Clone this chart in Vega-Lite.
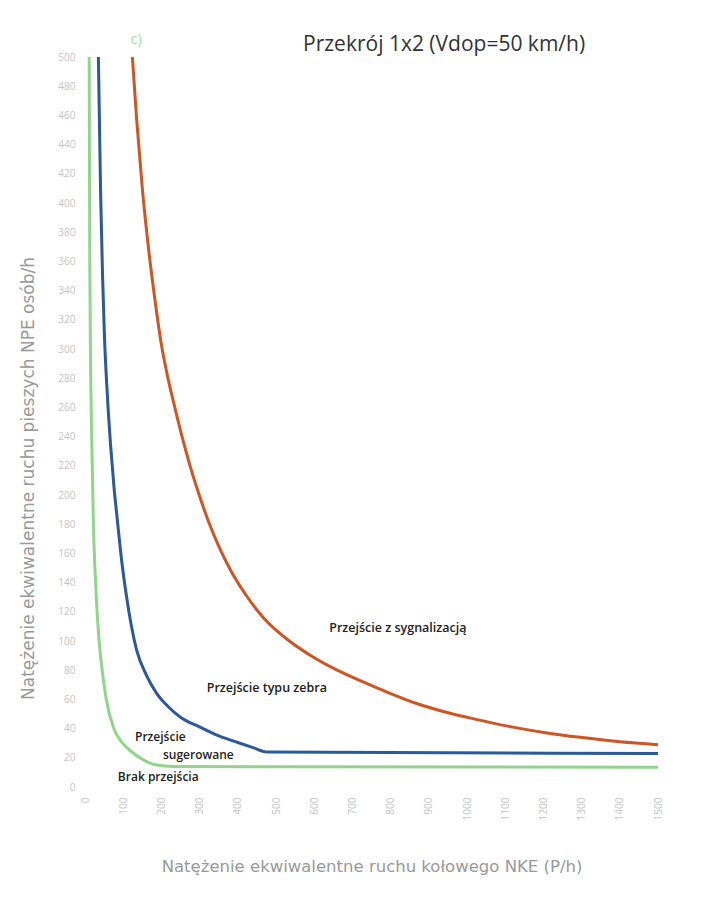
{
  "$schema": "https://vega.github.io/schema/vega-lite/v6.json",
  "width": 573,
  "height": 730,
  "autosize": {"type": "none"},
  "padding": {"left": 85, "top": 57, "right": 43, "bottom": 116},
  "background": "white",
  "config": {
    "view": {"stroke": null},
    "font": "Open Sans"
  },
  "datasets": {
    "curves": [
      {"series": "Brak przejścia", "nke": 11, "npe": 500},
      {"series": "Brak przejścia", "nke": 12.5, "npe": 360},
      {"series": "Brak przejścia", "nke": 15, "npe": 280},
      {"series": "Brak przejścia", "nke": 17.5, "npe": 240},
      {"series": "Brak przejścia", "nke": 22, "npe": 180},
      {"series": "Brak przejścia", "nke": 26, "npe": 150},
      {"series": "Brak przejścia", "nke": 30, "npe": 128},
      {"series": "Brak przejścia", "nke": 36, "npe": 103},
      {"series": "Brak przejścia", "nke": 44, "npe": 82},
      {"series": "Brak przejścia", "nke": 55, "npe": 61},
      {"series": "Brak przejścia", "nke": 74, "npe": 41},
      {"series": "Brak przejścia", "nke": 95, "npe": 31},
      {"series": "Brak przejścia", "nke": 118, "npe": 25},
      {"series": "Brak przejścia", "nke": 150, "npe": 19},
      {"series": "Brak przejścia", "nke": 188, "npe": 15},
      {"series": "Brak przejścia", "nke": 230, "npe": 14},
      {"series": "Brak przejścia", "nke": 1500, "npe": 13.5},
      {"series": "Przejście typu zebra", "nke": 35, "npe": 500},
      {"series": "Przejście typu zebra", "nke": 41, "npe": 405},
      {"series": "Przejście typu zebra", "nke": 46, "npe": 350},
      {"series": "Przejście typu zebra", "nke": 51, "npe": 308},
      {"series": "Przejście typu zebra", "nke": 56, "npe": 280},
      {"series": "Przejście typu zebra", "nke": 61, "npe": 257},
      {"series": "Przejście typu zebra", "nke": 67, "npe": 234},
      {"series": "Przejście typu zebra", "nke": 76, "npe": 205},
      {"series": "Przejście typu zebra", "nke": 85, "npe": 182},
      {"series": "Przejście typu zebra", "nke": 96, "npe": 155},
      {"series": "Przejście typu zebra", "nke": 109, "npe": 130},
      {"series": "Przejście typu zebra", "nke": 121, "npe": 111},
      {"series": "Przejście typu zebra", "nke": 135, "npe": 94},
      {"series": "Przejście typu zebra", "nke": 160, "npe": 77},
      {"series": "Przejście typu zebra", "nke": 188, "npe": 64},
      {"series": "Przejście typu zebra", "nke": 218, "npe": 55},
      {"series": "Przejście typu zebra", "nke": 249, "npe": 48},
      {"series": "Przejście typu zebra", "nke": 301, "npe": 41},
      {"series": "Przejście typu zebra", "nke": 350, "npe": 35},
      {"series": "Przejście typu zebra", "nke": 400, "npe": 30.5},
      {"series": "Przejście typu zebra", "nke": 440, "npe": 27},
      {"series": "Przejście typu zebra", "nke": 475, "npe": 24},
      {"series": "Przejście typu zebra", "nke": 1500, "npe": 23},
      {"series": "Przejście z sygnalizacją", "nke": 124, "npe": 500},
      {"series": "Przejście z sygnalizacją", "nke": 135, "npe": 458},
      {"series": "Przejście z sygnalizacją", "nke": 150, "npe": 410},
      {"series": "Przejście z sygnalizacją", "nke": 168, "npe": 365},
      {"series": "Przejście z sygnalizacją", "nke": 185, "npe": 330},
      {"series": "Przejście z sygnalizacją", "nke": 200, "npe": 303},
      {"series": "Przejście z sygnalizacją", "nke": 218, "npe": 279},
      {"series": "Przejście z sygnalizacją", "nke": 236, "npe": 259},
      {"series": "Przejście z sygnalizacją", "nke": 253, "npe": 241},
      {"series": "Przejście z sygnalizacją", "nke": 275, "npe": 220},
      {"series": "Przejście z sygnalizacją", "nke": 299, "npe": 200},
      {"series": "Przejście z sygnalizacją", "nke": 323, "npe": 182},
      {"series": "Przejście z sygnalizacją", "nke": 350, "npe": 165},
      {"series": "Przejście z sygnalizacją", "nke": 380, "npe": 149},
      {"series": "Przejście z sygnalizacją", "nke": 420, "npe": 132},
      {"series": "Przejście z sygnalizacją", "nke": 467, "npe": 116},
      {"series": "Przejście z sygnalizacją", "nke": 530, "npe": 101},
      {"series": "Przejście z sygnalizacją", "nke": 597, "npe": 89},
      {"series": "Przejście z sygnalizacją", "nke": 660, "npe": 80},
      {"series": "Przejście z sygnalizacją", "nke": 728, "npe": 72},
      {"series": "Przejście z sygnalizacją", "nke": 800, "npe": 64},
      {"series": "Przejście z sygnalizacją", "nke": 870, "npe": 57},
      {"series": "Przejście z sygnalizacją", "nke": 948, "npe": 51},
      {"series": "Przejście z sygnalizacją", "nke": 1030, "npe": 46},
      {"series": "Przejście z sygnalizacją", "nke": 1120, "npe": 41},
      {"series": "Przejście z sygnalizacją", "nke": 1210, "npe": 37},
      {"series": "Przejście z sygnalizacją", "nke": 1296, "npe": 34},
      {"series": "Przejście z sygnalizacją", "nke": 1400, "npe": 31},
      {"series": "Przejście z sygnalizacją", "nke": 1500, "npe": 29}
    ],
    "labels": [
      {"label": "Przejście z sygnalizacją", "nke": 819, "npe": 109, "align": "center"},
      {"label": "Przejście typu zebra", "nke": 476, "npe": 68, "align": "center"},
      {"label": "Przejście", "nke": 131, "npe": 34, "align": "left"},
      {"label": "sugerowane", "nke": 204, "npe": 22, "align": "left"},
      {"label": "Brak przejścia", "nke": 86, "npe": 7, "align": "left"}
    ]
  },
  "encoding": {
    "x": {
      "field": "nke",
      "type": "quantitative",
      "scale": {"domain": [0, 1500], "nice": false},
      "axis": {
        "title": "Natężenie ekwiwalentne ruchu kołowego NKE (P/h)",
        "titleFont": "DejaVu Sans",
        "titleColor": "#999999",
        "titleFontSize": 16.5,
        "titleFontWeight": "normal",
        "titleY": 79,
        "titleBaseline": "middle",
        "values": [0, 100, 200, 300, 400, 500, 600, 700, 800, 900, 1000, 1100, 1200, 1300, 1400, 1500],
        "format": "d",
        "labelOverlap": false,
        "labelFlush": false,
        "labelAngle": 270,
        "labelColor": "#c4c4c4",
        "labelFontSize": 10,
        "labelPadding": 10,
        "domain": false,
        "ticks": false,
        "grid": false
      }
    },
    "y": {
      "field": "npe",
      "type": "quantitative",
      "scale": {"domain": [0, 500], "nice": false},
      "axis": {
        "title": "Natężenie ekwiwalentne ruchu pieszych NPE osób/h",
        "titleFont": "DejaVu Sans",
        "titleColor": "#999999",
        "titleFontSize": 17,
        "titleFontWeight": "normal",
        "titleX": -57,
        "titleY": 421,
        "titleAngle": 270,
        "titleBaseline": "middle",
        "titleAlign": "center",
        "values": [0, 20, 40, 60, 80, 100, 120, 140, 160, 180, 200, 220, 240, 260, 280, 300, 320, 340, 360, 380, 400, 420, 440, 460, 480, 500],
        "labelOverlap": false,
        "labelFlush": false,
        "labelColor": "#c4c4c4",
        "labelFontSize": 10,
        "labelPadding": 10,
        "domain": false,
        "ticks": false,
        "grid": false
      }
    }
  },
  "layer": [
    {
      "data": {"name": "curves"},
      "mark": {"type": "line", "strokeWidth": 3, "interpolate": "monotone"},
      "encoding": {
        "color": {
          "field": "series",
          "type": "nominal",
          "scale": {
            "domain": ["Brak przejścia", "Przejście typu zebra", "Przejście z sygnalizacją"],
            "range": ["#8fd68a", "#2c589c", "#cf5522"]
          },
          "legend": null
        }
      }
    },
    {
      "data": {"name": "labels"},
      "transform": [{"filter": "datum.align == 'center'"}],
      "mark": {"type": "text", "align": "center", "baseline": "middle", "fontSize": 12.5, "fontWeight": 600, "color": "#222222"},
      "encoding": {
        "text": {"field": "label"}
      }
    },
    {
      "data": {"name": "labels"},
      "transform": [{"filter": "datum.align == 'left'"}],
      "mark": {"type": "text", "align": "left", "baseline": "middle", "fontSize": 12, "fontWeight": 600, "color": "#222222"},
      "encoding": {
        "text": {"field": "label"}
      }
    },
    {
      "data": {"values": [{"label": "c)", "nke": 134, "npe": 512}]},
      "mark": {"type": "text", "align": "center", "baseline": "middle", "fontSize": 15, "color": "#a9dca3"},
      "encoding": {
        "text": {"field": "label"}
      }
    },
    {
      "data": {"values": [{"label": "Przekrój 1x2 (Vdop=50 km/h)", "nke": 940, "npe": 504}]},
      "mark": {"type": "text", "align": "center", "baseline": "alphabetic", "fontSize": 21, "color": "#333333"},
      "encoding": {
        "text": {"field": "label"}
      }
    }
  ]
}
